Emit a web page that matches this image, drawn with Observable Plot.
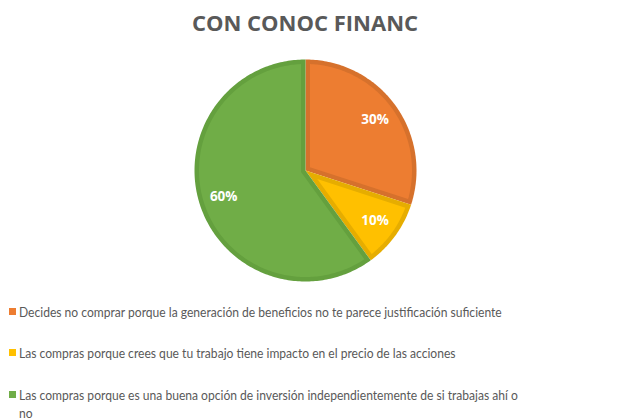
<!DOCTYPE html>
<html>
<head>
<meta charset="utf-8">
<script src="https://cdn.jsdelivr.net/npm/d3@7"></script>
<script src="https://cdn.jsdelivr.net/npm/@observablehq/plot@0.6"></script>
<style>
  html, body { margin: 0; padding: 0; background: #ffffff; width: 638px; height: 420px; overflow: hidden; }
  #title { width: 610px; height: 39px; padding-top: 7px; text-align: center; font-family: "Open Sans", sans-serif; font-weight: bold; font-size: 22px; line-height: 30px; color: #595959; }
  #chart svg { display: block; }
  #legend { position: relative; height: 132px; font-family: Lato, sans-serif; font-size: 14px; line-height: 18.5px; color: #595959; }
  .item { position: absolute; left: 0; }
  .sw { position: absolute; left: 9px; top: 5px; width: 7px; height: 7px; }
  .lab { position: absolute; left: 19px; white-space: normal; transform-origin: 0 0; }
</style>
</head>
<body>
<div id="title"></div>
<div id="chart"></div>
<div id="legend"></div>
<script>
const title = "CON CONOC FINANC";
const categories = [
  "Decides no comprar porque la generación de beneficios no te parece justificación suficiente",
  "Las compras porque crees que tu trabajo tiene impacto en el precio de las acciones",
  "Las compras porque es una buena opción de inversión independientemente de si trabajas ahí o no"
];
const values = [30, 10, 60];
const labels = ["30%", "10%", "60%"];
const fillColors = ["#ED7D31", "#FFC000", "#70AD47"];
const borderColors = ["#D6712C", "#E6AD00", "#64A03E"];

// layout (pixels)
const W = 638, H = 242, R = 111, cx = 305, cy = 124, border = 4.5, labelRadius = 0.775;
const legendFirstWidth = 483; // rendered width of the first legend line in the reference
const legendTop = 14.6, legendStep = 41.5;

const d = border / R;
const arcs = d3.pie().sort(null).startAngle(0).endAngle(2 * Math.PI)(values);
const pt = (a, r) => [r * Math.sin(a), r * Math.cos(a)];

const rows = [];
arcs.forEach((arc, i) => {
  const a0 = arc.startAngle, a1 = arc.endAngle;
  const outer = [[0, 0]];
  const n = Math.max(2, Math.ceil((a1 - a0) / (Math.PI / 180)));
  for (let k = 0; k <= n; k++) outer.push(pt(a0 + (a1 - a0) * k / n, 1));
  outer.push([0, 0]);
  outer.forEach(([x, y]) => rows.push({key: "o" + i, x, y, color: borderColors[i]}));
  const theta = a1 - a0, m = (a0 + a1) / 2;
  const apex = pt(m, d / Math.sin(theta / 2));
  const ri = 1 - d, delta = Math.asin(d / ri);
  const b0 = a0 + delta, b1 = a1 - delta;
  const inner = [apex];
  for (let k = 0; k <= n; k++) inner.push(pt(b0 + (b1 - b0) * k / n, ri));
  inner.push(apex);
  inner.forEach(([x, y]) => rows.push({key: "i" + i, x, y, color: fillColors[i]}));
});

const labelRows = arcs.map((arc, i) => {
  const [x, y] = pt((arc.startAngle + arc.endAngle) / 2, labelRadius);
  return {x, y, text: labels[i]};
});

document.getElementById("title").textContent = title;

const plot = Plot.plot({
  width: W,
  height: H,
  margin: 0,
  x: {domain: [-cx / R, (W - cx) / R], axis: null},
  y: {domain: [-(H - cy) / R, cy / R], axis: null},
  color: {type: "identity"},
  style: {fontFamily: "Open Sans, sans-serif", background: "#ffffff"},
  marks: [
    Plot.line(rows, {x: "x", y: "y", z: "key", fill: "color", stroke: "none"}),
    Plot.text(labelRows, {x: "x", y: "y", text: "text", fill: "#ffffff", fontWeight: "bold", fontSize: 13.5})
  ]
});
document.getElementById("chart").appendChild(plot);

// legend: condensed text like the reference
const ctx = document.createElement("canvas").getContext("2d");
ctx.font = "14px Lato";
const measure = s => ctx.measureText(s).width;
const scale = legendFirstWidth / measure(categories[0]);
const last = categories[categories.length - 1];
const wrapW = (measure(last) + measure(last.replace(/\s+\S+$/, ""))) / 2;

const legend = document.getElementById("legend");
categories.forEach((c, i) => {
  const item = document.createElement("div");
  item.className = "item";
  item.style.top = (legendTop + legendStep * i) + "px";
  const sw = document.createElement("span");
  sw.className = "sw";
  sw.style.background = fillColors[i];
  const lab = document.createElement("span");
  lab.className = "lab";
  lab.style.width = wrapW + "px";
  lab.style.transform = `scaleX(${scale})`;
  lab.textContent = c;
  item.appendChild(sw);
  item.appendChild(lab);
  legend.appendChild(item);
});
</script>
</body>
</html>
